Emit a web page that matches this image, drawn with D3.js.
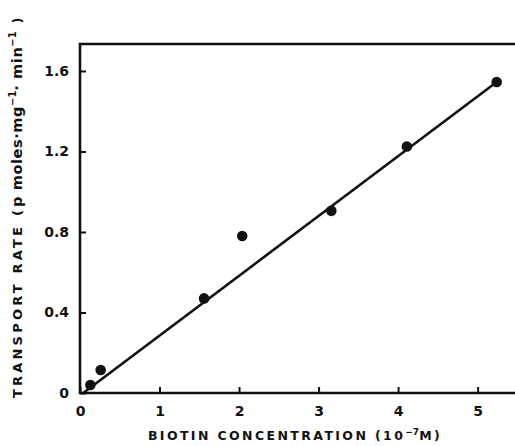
<!DOCTYPE html>
<html>
<head>
<meta charset="utf-8">
<script src="https://cdn.jsdelivr.net/npm/d3@7"></script>
<style>
  body { margin: 0; background: #fff; }
  text { font-family: "DejaVu Sans", sans-serif; font-weight: bold; fill: #111; }
</style>
</head>
<body>
<div id="container"></div>
<script>
const biotin = [0.13, 0.26, 1.56, 2.04, 3.16, 4.11, 5.24];
const rate = [0.04, 0.114, 0.47, 0.78, 0.905, 1.225, 1.545];
// Fitted straight line end points
const fitX = [0.04, 5.24];
const fitY = [0.0, 1.545];
// Tick values
const xTicks = [0, 1, 2, 3, 4, 5];
const yTicks = [0, 0.4, 0.8, 1.2, 1.6];

const W = 515, H = 446;
const svg = d3.select('#container').append('svg')
  .attr('width', W).attr('height', H);

// plot area
const mLeft = 80, mBottom = 393, mTop = 44, mRight = 515;
const xScale = d3.scaleLinear().domain([0, 5.47]).range([mLeft, mRight]);
const yScale = d3.scaleLinear().domain([0, 1.734]).range([mBottom, mTop]);

// Axes, ticks pointing inward
const xAxis = svg.append('g')
  .attr('transform', `translate(0, ${mBottom})`)
  .call(d3.axisBottom(xScale).tickValues(xTicks).tickSize(-6).tickPadding(13)
    .tickFormat(d3.format('d')));
const yAxis = svg.append('g')
  .attr('transform', `translate(${mLeft}, 0)`)
  .call(d3.axisLeft(yScale).tickValues(yTicks).tickSize(-6).tickPadding(11)
    .tickFormat(d => d === 0 ? '0' : d3.format('.1f')(d)));

[xAxis, yAxis].forEach(ax => {
  ax.select('.domain').remove();
  ax.selectAll('.tick line').attr('stroke', '#111').attr('stroke-width', 2);
  ax.selectAll('.tick text').attr('font-size', 14).attr('font-weight', 'bold')
    .attr('font-family', '"DejaVu Sans", sans-serif').attr('fill', '#111');
});

// Frame: left axis, bottom axis and top line (open on the right)
svg.append('path')
  .attr('d', `M${mRight},${mTop}H${mLeft}V${mBottom}H${mRight}`)
  .attr('fill', 'none').attr('stroke', '#111').attr('stroke-width', 2.6);

// Fitted line
svg.append('line')
  .attr('x1', xScale(fitX[0])).attr('y1', yScale(fitY[0]))
  .attr('x2', xScale(fitX[1])).attr('y2', yScale(fitY[1]))
  .attr('stroke', '#111').attr('stroke-width', 2.6);

// Points
svg.selectAll('circle.pt')
  .data(biotin.map((b, i) => ({ x: b, y: rate[i] })))
  .enter().append('circle')
  .attr('class', 'pt')
  .attr('cx', d => xScale(d.x))
  .attr('cy', d => yScale(d.y))
  .attr('r', 5.3)
  .attr('fill', '#111');

// X axis title
const xt = svg.append('text')
  .attr('x', 295).attr('y', 440)
  .attr('text-anchor', 'middle')
  .attr('font-size', 12.5)
  .attr('letter-spacing', 2.4);
xt.append('tspan').text('BIOTIN  CONCENTRATION (10');
xt.append('tspan').attr('dy', -5).attr('font-size', 9).attr('letter-spacing', 0).text('−7');
xt.append('tspan').attr('dy', 5).text('M)');

// Y axis title
const yt = svg.append('text')
  .attr('transform', 'translate(22, 398) rotate(-90)')
  .attr('text-anchor', 'start')
  .attr('font-size', 13)
  .attr('letter-spacing', 3.2);
yt.append('tspan').text('TRANSPORT RATE  (');
yt.append('tspan').attr('font-size', 14.5).attr('letter-spacing', 0.6).text('p moles·mg');
yt.append('tspan').attr('dy', -6).attr('font-size', 10).attr('letter-spacing', 0).text('−1');
yt.append('tspan').attr('dy', 6).attr('font-size', 14.5).attr('letter-spacing', 0.6).text('· min');
yt.append('tspan').attr('dy', -6).attr('font-size', 10).attr('letter-spacing', 0).text('−1');
yt.append('tspan').attr('dy', 6).text('  )');
</script>
</body>
</html>
